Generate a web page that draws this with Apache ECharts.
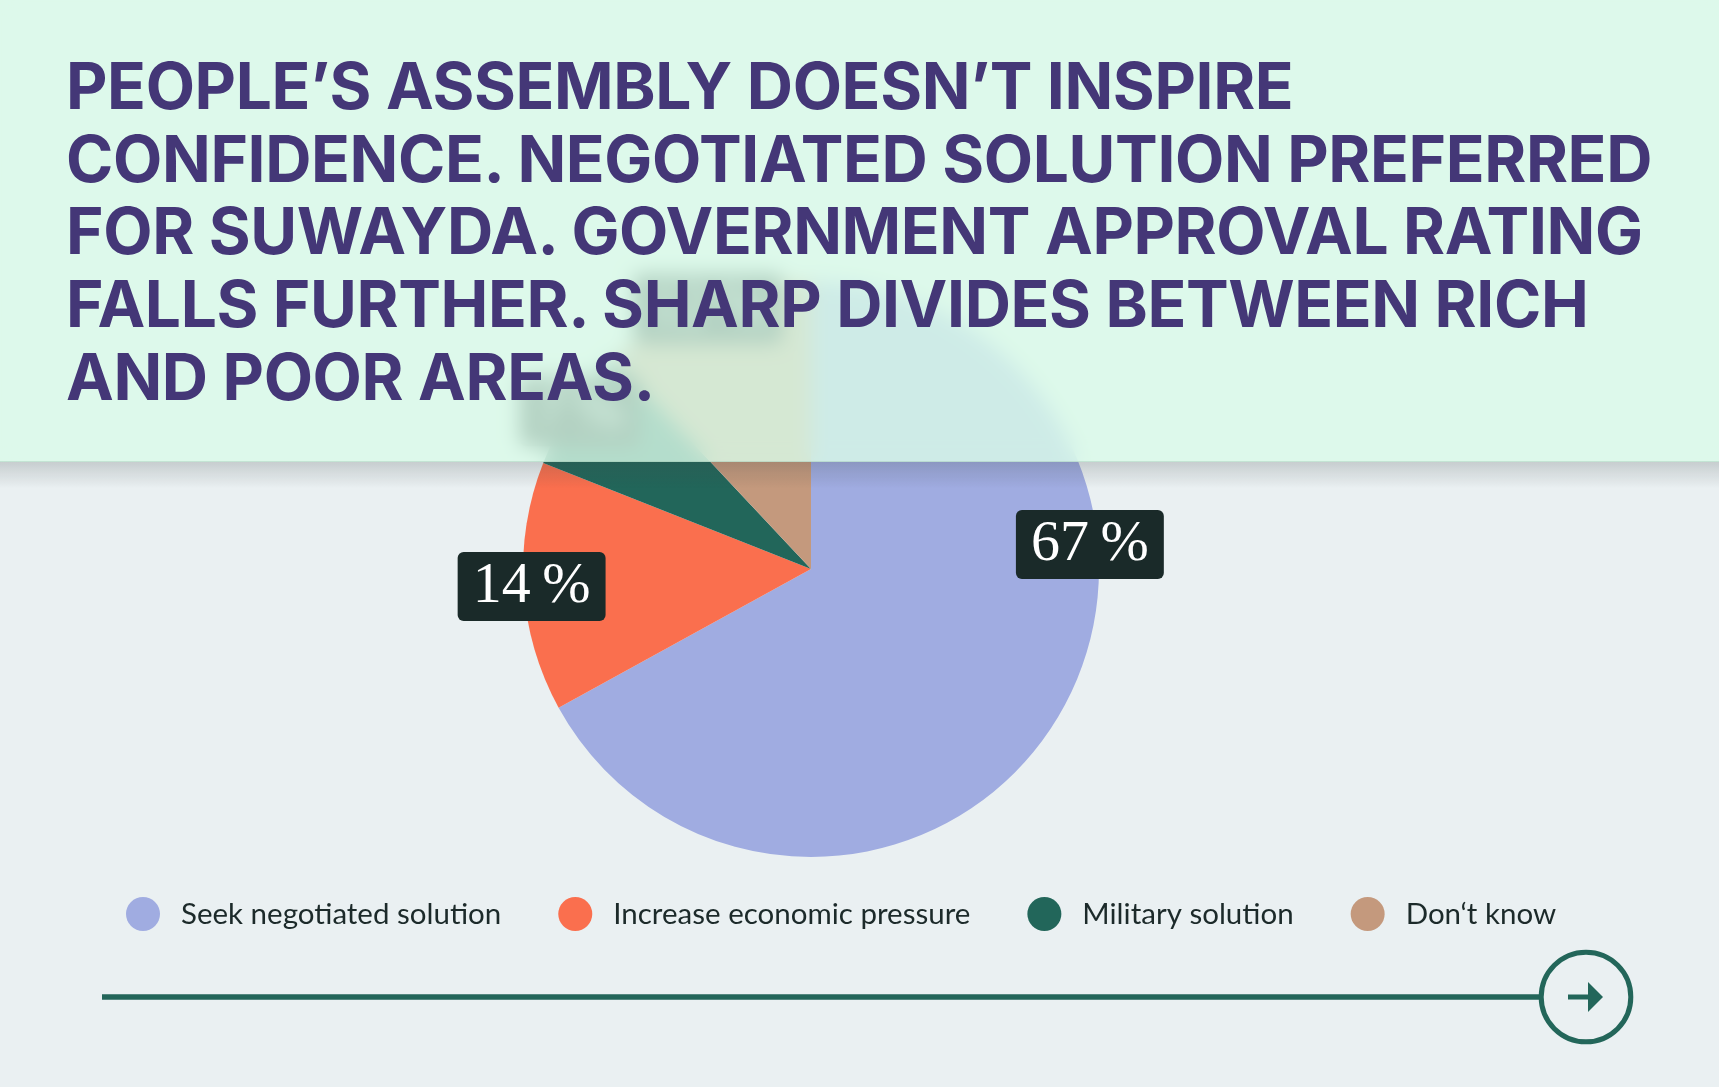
<!DOCTYPE html>
<html>
<head>
<meta charset="utf-8" />
<title>Suwayda poll</title>
<script src="https://cdn.jsdelivr.net/npm/echarts@6/dist/echarts.min.js"></script>
<style>
	html, body { margin:0; padding:0; background:#eaf0f2; }
	#chart { position:absolute; left:0; top:0; width:1719px; height:1087px; }
	#panel {
		position:absolute; left:0; top:0; width:1719px; height:461px;
		background:rgba(217,251,232,0.8);
		-webkit-backdrop-filter:blur(10px); backdrop-filter:blur(10px);
		border-bottom:1px solid rgba(150,190,170,0.35);
	}
	#shade {
		position:absolute; left:0; top:462px; width:1719px; height:26px;
		background:linear-gradient(rgba(60,70,70,0.2), rgba(60,70,70,0));
	}
	#title {
		position:absolute; left:66px; top:50px; margin:0;
		font-family:Inter, "Noto Sans", sans-serif; font-weight:700;
		font-size:64px; line-height:72.7px; color:#443777;
		white-space:nowrap;
	}
	#title span { display:inline-block; }
</style>
<script type="text/javascript">
	var categories = ['Seek negotiated solution', 'Increase economic pressure', 'Military solution', 'Don\u2018t know'];
	var shares = [67, 14, 7, 12];
	var colors = ['#a0ace1', '#fa6f4e', '#22665a', '#c4997d'];
	var titleLines = [
		'PEOPLE\u2019S ASSEMBLY DOESN\u2019T INSPIRE',
		'CONFIDENCE. NEGOTIATED SOLUTION PREFERRED',
		'FOR SUWAYDA. GOVERNMENT APPROVAL RATING',
		'FALLS FURTHER. SHARP DIVIDES BETWEEN RICH',
		'AND POOR AREAS.'
	];

	window.onload = function(){
		buildTitle();
		drawPie();
	};

	function buildTitle(){
		var t = document.getElementById('title');
		t.innerHTML = titleLines.map(function(s){ return '<span>' + s + '</span>'; }).join('<br/>');
		// squeeze tracking so the longest line spans the same width as the reference
		var spans = t.getElementsByTagName('span');
		var w = spans[1].getBoundingClientRect().width;
		var ls = (1586 - w) / titleLines[1].length;
		t.style.letterSpacing = ls + 'px';
	}

	function drawPie(){
		var myChart = echarts.init(document.getElementById('chart'));
		var cx = 811, cy = 569, R = 288;
		var total = shares.reduce(function(a, b){ return a + b; }, 0);
		var data = categories.map(function(name, i){
			return {name: name, value: shares[i], itemStyle: {color: colors[i]}};
		});
		var option = {
			animation: false,
			legend: {
				left: 121,
				top: 892,
				icon: 'circle',
				itemWidth: 34,
				itemHeight: 34,
				itemGap: 57,
				textStyle: {
					fontFamily: 'Lato',
					fontSize: 29.5,
					color: '#1c2a2a',
					padding: [0, 0, 0, 16]
				},
				data: categories
			},
			series: [
				{
					name: 'Suwayda',
					type: 'pie',
					center: [cx, cy],
					radius: R,
					startAngle: 90,
					clockwise: true,
					label: {
						show: true,
						position: 'inside',
						formatter: '{c}\u2009%',
						fontFamily: 'Liberation Serif',
						fontSize: 58,
						lineHeight: 69,
						color: '#ffffff',
						backgroundColor: '#1a2a29',
						borderRadius: 6,
						padding: [0, 15]
					},
					labelLine: {show: false},
					labelLayout: function(params){
						var i = params.dataIndex;
						var before = 0;
						for (var k = 0; k < i; k++) before += shares[k];
						var a = (before + shares[i] / 2) / total * 360;
						if (i === 0) a = 85; // big slice label sits on the right edge
						var rr = R * 0.972;
						var rad = a * Math.PI / 180;
						return {
							x: cx + rr * Math.sin(rad),
							y: cy - rr * Math.cos(rad),
							align: 'center',
							verticalAlign: 'middle'
						};
					},
					data: data
				}
			],
			graphic: [
				{
					type: 'line',
					shape: {x1: 102, y1: 997, x2: 1539, y2: 997},
					style: {stroke: '#23665a', lineWidth: 5.3}
				},
				{
					type: 'circle',
					shape: {cx: 1586, cy: 997, r: 44.8},
					style: {stroke: '#23665a', fill: 'none', lineWidth: 5}
				},
				{
					type: 'line',
					shape: {x1: 1568, y1: 997, x2: 1592, y2: 997},
					style: {stroke: '#23665a', lineWidth: 5}
				},
				{
					type: 'polygon',
					shape: {points: [[1588, 982], [1603, 997], [1588, 1012]]},
					style: {fill: '#23665a'}
				}
			]
		};
		myChart.setOption(option);
	}
</script>
</head>
<body>
	<div id="chart"></div>
	<div id="panel"><h1 id="title"></h1></div>
	<div id="shade"></div>
</body>
</html>
